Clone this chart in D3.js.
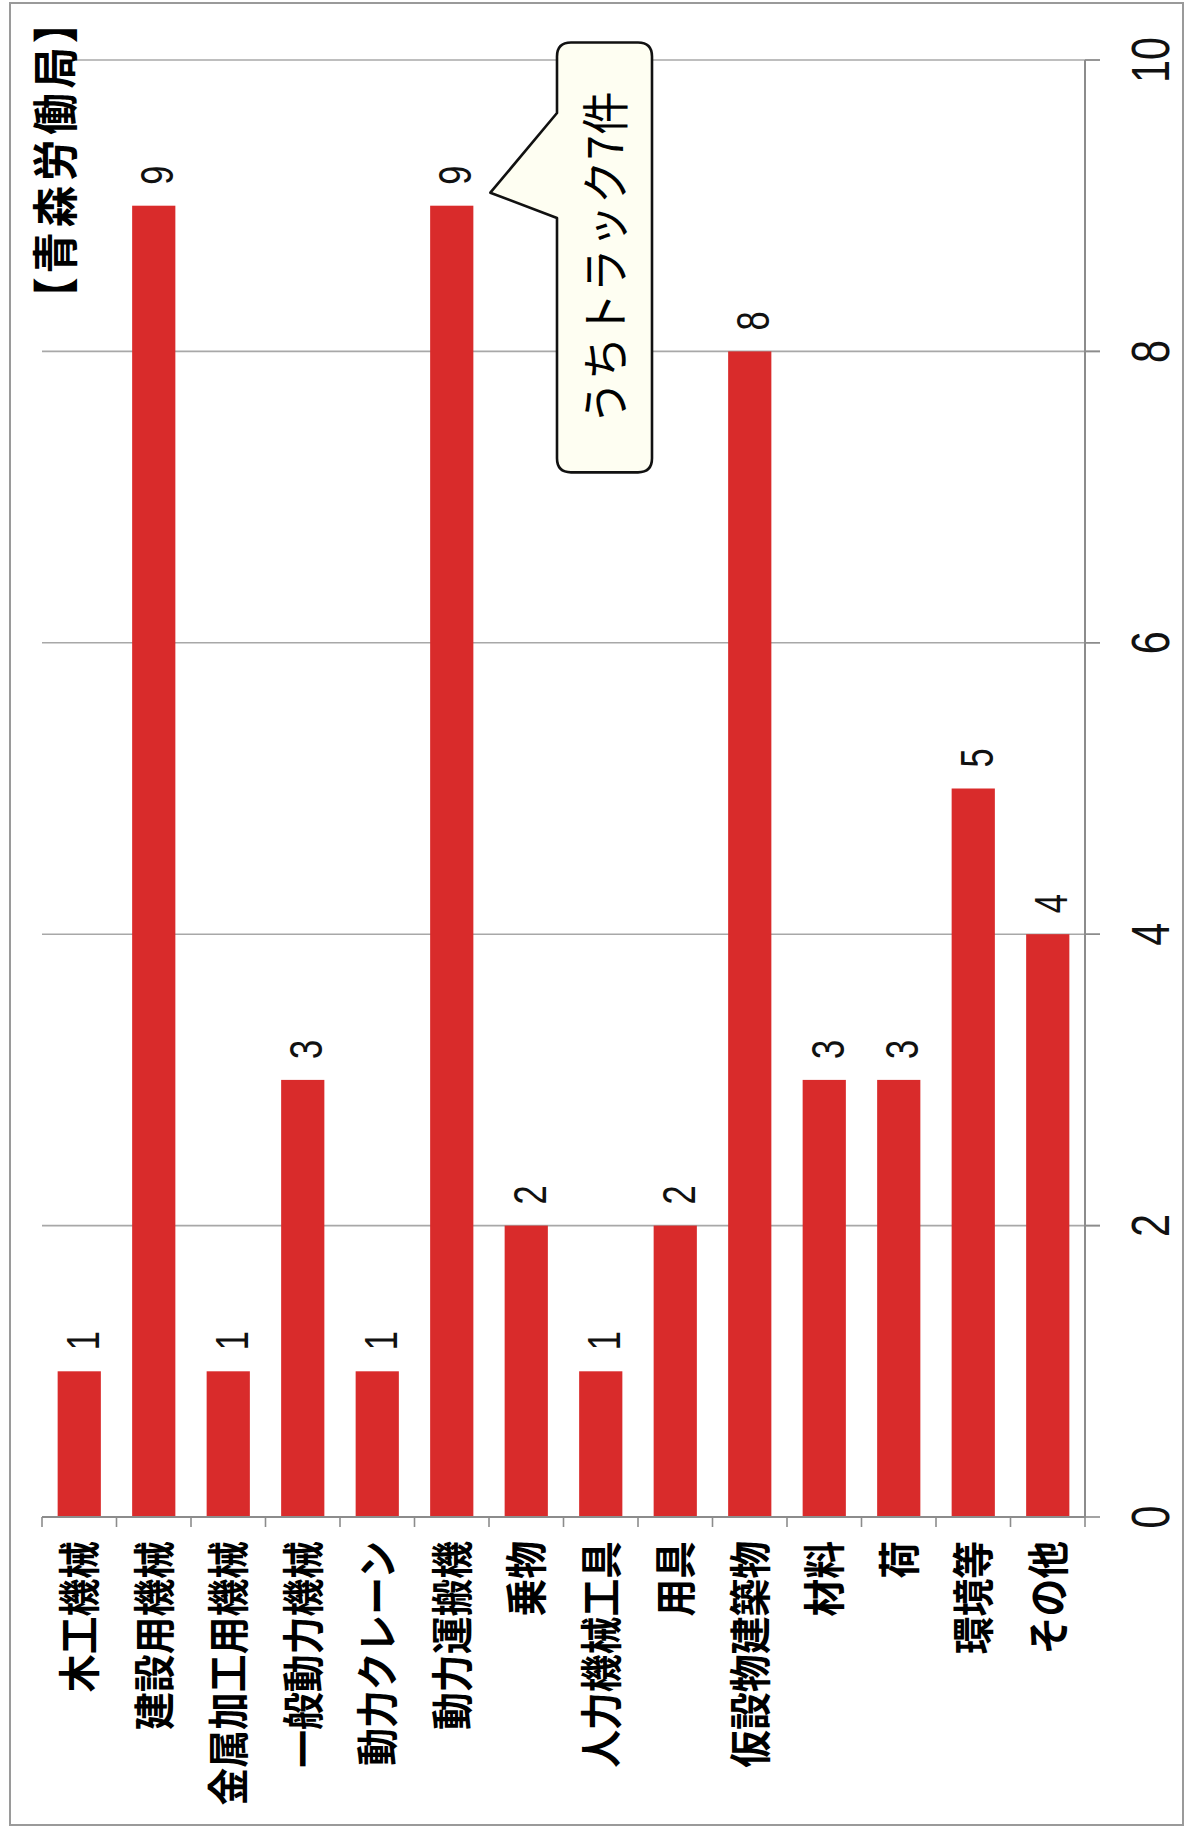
<!DOCTYPE html>
<html><head><meta charset="utf-8">
<script src="https://cdn.jsdelivr.net/npm/d3@7"></script>
<style>html,body{margin:0;padding:0;background:#fff;}svg{display:block;}</style>
</head><body>
<script>
const categories = ["木工機械","建設用機械","金属加工用機械","一般動力機械","動力クレーン","動力運搬機","乗物","人力機械工具","用具","仮設物建築物","材料","荷","環境等","その他"];
const values = [1,9,1,3,1,9,2,1,2,8,3,3,5,4];
const tickValues = [0,2,4,6,8,10];
const titleText = "【青森労働局】";
const calloutText = "うちトラック7件";

const W = 1185, H = 1830;
const svg = d3.select("body").append("svg").attr("width", W).attr("height", H);
svg.append("rect").attr("x",0).attr("y",0).attr("width",W).attr("height",H).attr("fill","#fff");
// outer frame
svg.append("rect").attr("x",10).attr("y",3).attr("width",1173).attr("height",1822)
  .attr("fill","none").attr("stroke","#9a9a9a").attr("stroke-width",2);

const x = d3.scaleBand().domain(categories).range([42, 1085]).paddingInner(0.42).paddingOuter(0.21);
const y = d3.scaleLinear().domain([0, 10]).range([1517, 60]);
const AXR = 1085;

// gridlines
svg.append("g").selectAll("line").data(tickValues.filter(d => d > 0)).join("line")
  .attr("x1", 42).attr("x2", AXR + 15).attr("y1", d => y(d)).attr("y2", d => y(d))
  .attr("stroke", "#a8a8a8").attr("stroke-width", 1.6);

// bars
svg.append("g").selectAll("rect").data(values).join("rect")
  .attr("x", (d,i) => x(categories[i]))
  .attr("width", x.bandwidth())
  .attr("y", d => y(d))
  .attr("height", d => y(0) - y(d))
  .attr("fill", "#d92b2b");

// value axis (right)
svg.append("line").attr("x1", AXR).attr("x2", AXR).attr("y1", y(10)).attr("y2", y(0))
  .attr("stroke", "#8c8c8c").attr("stroke-width", 2);
svg.append("g").selectAll("line").data(tickValues).join("line")
  .attr("x1", AXR).attr("x2", AXR + 15).attr("y1", d => y(d)).attr("y2", d => y(d))
  .attr("stroke", "#8c8c8c").attr("stroke-width", 1.6);
svg.append("g").selectAll("text").data(tickValues).join("text")
  .attr("transform", d => `translate(1150,${y(d)}) rotate(-90) scale(0.78,1)`)
  .attr("text-anchor", "middle").attr("dy", "0.36em")
  .attr("font-family", "Liberation Sans, Arial, sans-serif").attr("font-size", 53)
  .attr("fill", "#111").text(d => d);

// category axis (bottom)
svg.append("line").attr("x1", 42).attr("x2", AXR).attr("y1", y(0)).attr("y2", y(0))
  .attr("stroke", "#8c8c8c").attr("stroke-width", 2);
const bounds = d3.range(categories.length + 1).map(i => 42 + i * x.step());
svg.append("g").selectAll("line").data(bounds).join("line")
  .attr("x1", d => d).attr("x2", d => d).attr("y1", y(0)).attr("y2", y(0) + 10)
  .attr("stroke", "#8c8c8c").attr("stroke-width", 1.6);

svg.append("g").selectAll("text").data(categories).join("text")
  .attr("transform", d => `translate(${x(d) + x.bandwidth()/2},1541) rotate(-90) scale(0.9,1)`)
  .attr("text-anchor", "end").attr("dy", "0.38em")
  .attr("font-family", "Noto Sans CJK JP, sans-serif").attr("font-weight", 700).attr("font-size", 42)
  .attr("fill", "#000").text(d => d);

// value labels
svg.append("g").selectAll("text").data(values).join("text")
  .attr("transform", (d,i) => `translate(${x(categories[i]) + x.bandwidth()/2 + 3},${y(d) - 21}) rotate(-90) scale(0.75,1)`)
  .attr("text-anchor", "start").attr("dy", "0.36em")
  .attr("font-family", "Liberation Sans, Arial, sans-serif").attr("font-size", 46)
  .attr("fill", "#111").text(d => d);

// title
svg.append("rect").attr("x", 26).attr("y", 8).attr("width", 50).attr("height", 296).attr("fill", "#fff");
const title = svg.append("text")
  .attr("transform", `translate(55,299) rotate(-90) scale(0.9,1)`)
  .attr("text-anchor", "start").attr("dy", "0.38em")
  .style("font-feature-settings", '"palt" 1')
  .attr("font-family", "Noto Sans CJK JP, sans-serif").attr("font-weight", 700).attr("font-size", 46)
  .attr("fill", "#000").text(titleText);
const L = title.node().getComputedTextLength();
const ls = Math.max(0, (280 / 0.9 - L) / 6.5);
title.attr("letter-spacing", ls);

// callout
const target = categories[5];
const tipX = x(target) + x.bandwidth() + 17, tipY = y(values[5]) - 13;
const bx0 = 557, bx1 = 652, by0 = y(10.12), by1 = y(7.17), r = 14;
const pA = 113, pB = 218;
const path = d3.path();
path.moveTo(bx0 + r, by0);
path.lineTo(bx1 - r, by0);
path.quadraticCurveTo(bx1, by0, bx1, by0 + r);
path.lineTo(bx1, by1 - r);
path.quadraticCurveTo(bx1, by1, bx1 - r, by1);
path.lineTo(bx0 + r, by1);
path.quadraticCurveTo(bx0, by1, bx0, by1 - r);
path.lineTo(bx0, pB);
path.lineTo(tipX, tipY);
path.lineTo(bx0, pA);
path.lineTo(bx0, by0 + r);
path.quadraticCurveTo(bx0, by0, bx0 + r, by0);
path.closePath();
svg.append("path").attr("d", path.toString()).attr("fill", "#fefef2")
  .attr("stroke", "#111").attr("stroke-width", 2.6).attr("stroke-linejoin", "round");
svg.append("text")
  .attr("transform", `translate(${(bx0+bx1)/2},${(by0+by1)/2}) rotate(-90) scale(0.9,1)`)
  .attr("text-anchor", "middle").attr("dy", "0.38em")
  .attr("letter-spacing", 1)
  .attr("font-family", "Noto Sans CJK JP, sans-serif").attr("font-weight", 400).attr("font-size", 48)
  .attr("fill", "#000").text(calloutText);
</script>
</body></html>
